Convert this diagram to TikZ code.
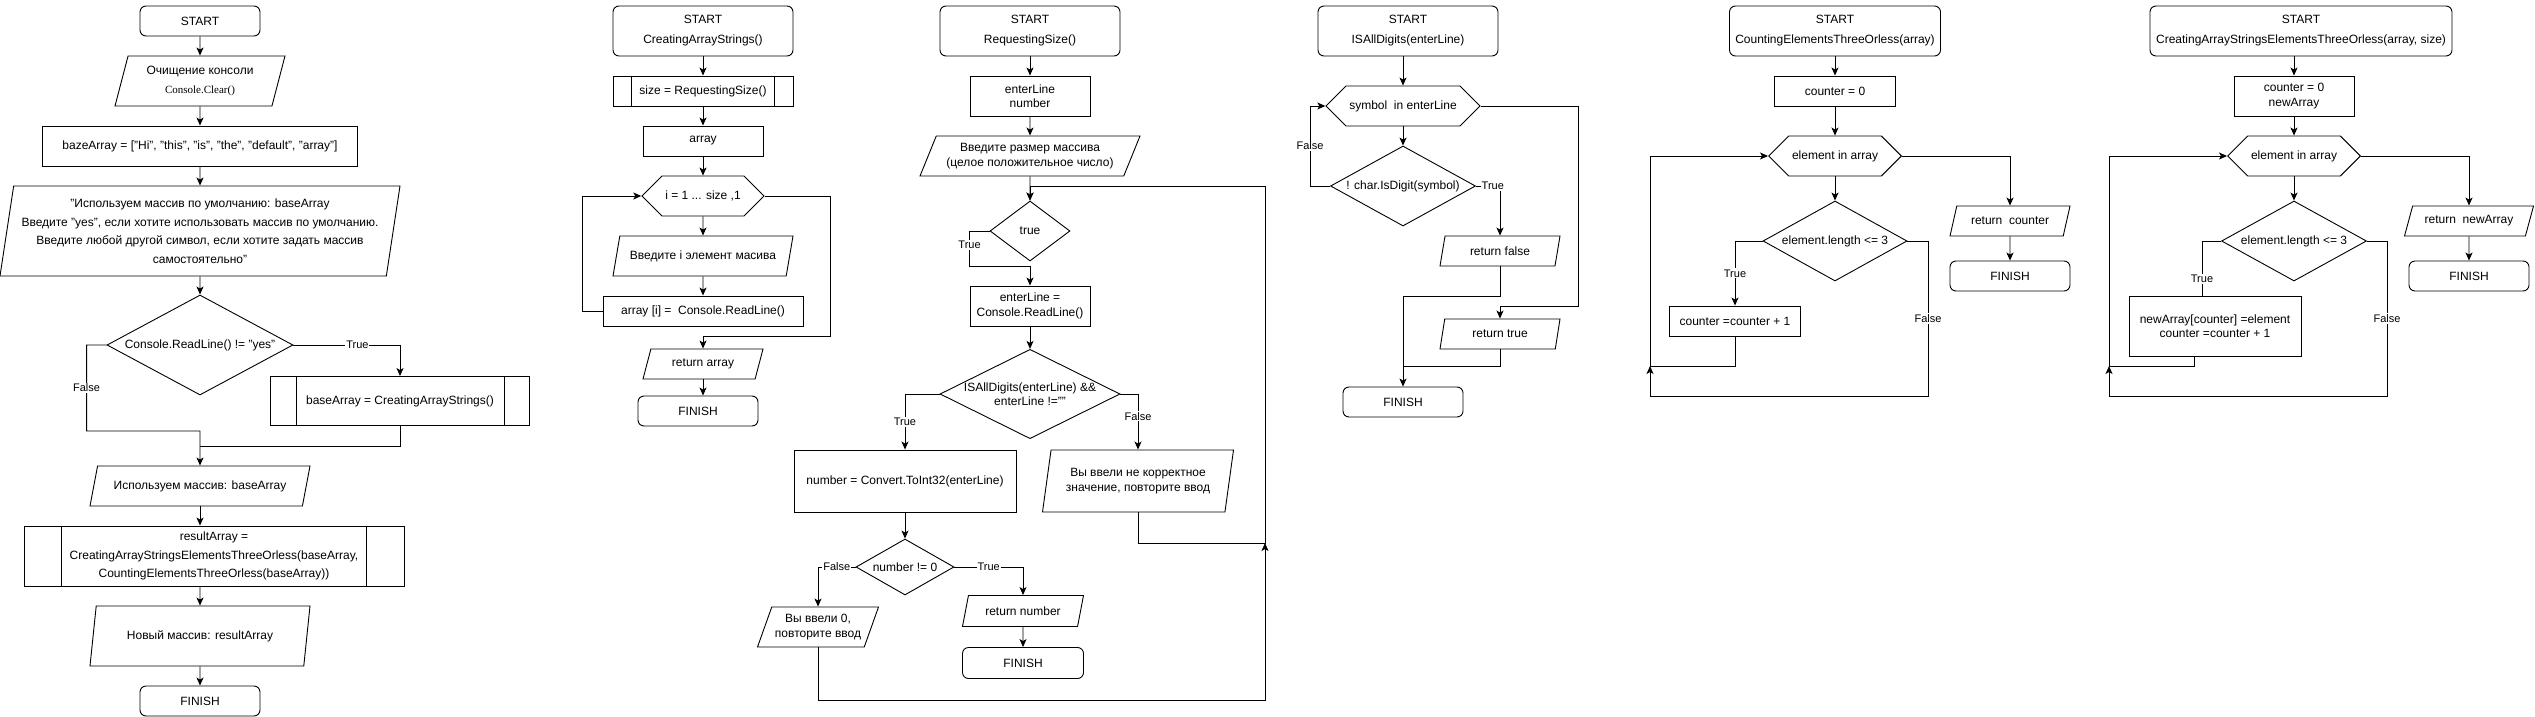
\documentclass[tikz,border=0pt]{standalone}
\usepackage{fontspec}
\setmainfont{Liberation Sans}
\newfontfamily\serifclear{Liberation Serif}
\usepackage{tikz}
\usetikzlibrary{calc, shapes.geometric, shapes.symbols, arrows.meta, positioning}
\tikzstyle{line} = [draw, -{Stealth[length=8pt, width=7pt, inset=2pt]}]
\tikzstyle{startstop} = [draw, rectangle, rounded corners=6pt, minimum width=120pt, minimum height=30pt, align=center]
\tikzstyle{process} = [draw, rectangle, minimum width=120pt, minimum height=30pt, align=center]
\tikzstyle{inout} = [draw, trapezium, trapezium left angle=65, trapezium right angle=115, trapezium stretches body=true, minimum height=30pt, inner xsep=2pt, align=center]
\tikzstyle{decision} = [draw, diamond, aspect=2, inner sep=0pt, align=center]
\tikzstyle{loophex} = [draw, signal, signal to=east and west, signal pointer angle=90, minimum width=130pt, minimum height=40pt, align=center]
\tikzstyle{lbl} = [fill=white, inner sep=1pt, font=\fontsize{11}{13}\selectfont]
\tikzset{subroutine/.style={draw, rectangle, minimum height=30pt, align=center,
    append after command={
      ([xshift=#1]\tikzlastnode.north west) edge[-] ([xshift=#1]\tikzlastnode.south west)
      ([xshift=-#1]\tikzlastnode.north east) edge[-] ([xshift=-#1]\tikzlastnode.south east)}},
  startfont/.style={font=\fontsize{12}{20}\selectfont},
  tallfont/.style={font=\fontsize{12}{18.5}\selectfont}}

\begin{document}
\begin{tikzpicture}[x=1pt, y=-1pt, line width=0.9pt, font=\fontsize{12}{14.5}\selectfont]
\useasboundingbox (0,0) rectangle (2535,717);

% Main program
\node[startstop] (s1) at (200,21) {START};
\node[inout, trapezium left angle=70, trapezium right angle=110, minimum width=170pt, minimum height=50pt, tallfont] (io1) at (200,81) {Очищение консоли\\{\serifclear\fontsize{11}{13}\selectfont Console.Clear()}};
\node[process, minimum width=315pt, minimum height=40pt] (p1) at (200,146) {bazeArray = ["Hi", "this", "is", "the", "default", "array"]};
\node[inout, trapezium left angle=78, trapezium right angle=102, minimum width=400pt, minimum height=90pt, tallfont, inner ysep=0pt] (io2) at (200,231) {"Используем массив по умолчанию: baseArray\\Введите "yes", если хотите использовать массив по умолчанию.\\Введите любой другой символ, если хотите задать массив\\самостоятельно"};
\node[decision, minimum width=186pt, minimum height=100pt] (d1) at (200,345) {Console.ReadLine() != "yes"};
\node[subroutine=26, minimum width=259pt, minimum height=49pt] (sub1) at (400,401) {baseArray = CreatingArrayStrings()};
\node[inout, trapezium left angle=67, trapezium right angle=113, minimum width=220pt, minimum height=40pt] (io3) at (200,486) {Используем массив: baseArray};
\node[subroutine=38, minimum width=380pt, minimum height=60pt, tallfont] (sub2) at (214,556) {resultArray =\\CreatingArrayStringsElementsThreeOrless(baseArray,\\CountingElementsThreeOrless(baseArray))};
\node[inout, trapezium left angle=71, trapezium right angle=109, minimum width=220pt, minimum height=60pt] (io4) at (200,636) {Новый массив: resultArray};
\node[startstop] (f1) at (200,701) {FINISH};
\coordinate (j1) at (200,431);
\coordinate (j2) at (200,446);

\draw[line] (s1.south) -- (io1.north);
\draw[line] (io1.south) -- (p1.north);
\draw[line] (p1.south) -- (io2.north);
\draw[line] (io2.south) -- (d1.north);
\draw[line] (d1.east) -| node[lbl, pos=0.3] {True} (sub1.north);
\draw[line] (d1.west) -- ++(-20,0) |- node[lbl, pos=0.25] {False} (j1) -- (io3.north);
\draw (sub1.south) |- (j2);
\draw[line] (io3.south) -- (io3.south |- sub2.north);
\draw[line] (io3.south |- sub2.south) -- (io4.north);
\draw[line] (io4.south) -- (f1.north);

% CreatingArrayStrings
\node[startstop, minimum width=180pt, minimum height=50pt, startfont] (s2) at (703,31) {START\\CreatingArrayStrings()};
\node[subroutine=19, minimum width=180pt] (sub3) at (703,91) {size = RequestingSize()};
\node[process] (p2) at (703,141) {array};
\node[loophex, minimum width=120pt] (h1) at (703,196) {i = 1 ... size ,1};
\node[inout, trapezium left angle=69, trapezium right angle=111, minimum width=180pt, minimum height=40pt] (io5) at (703,256) {Введите i элемент масива};
\node[process, minimum width=200pt] (p3) at (703,311) {array [i] =\ \ Console.ReadLine()};
\node[inout, minimum width=120pt] (io6) at (703,364) {return array};
\node[startstop] (f2) at (698,411) {FINISH};
\coordinate (c2a) at (830,336);

\draw[line] (s2.south) -- (sub3.north);
\draw[line] (sub3.south) -- (p2.north);
\draw[line] (p2.south) -- (h1.north);
\draw[line] (h1.south) -- (io5.north);
\draw[line] (io5.south) -- (p3.north);
\draw[line] (p3.west) -- ++(-20,0) |- (h1.west);
\draw[line] (h1.east) -| (c2a) -- (io6.north |- c2a) -- (io6.north);
\draw[line] (io6.south) -- (io6.south |- f2.north);

% RequestingSize
\node[startstop, minimum width=180pt, minimum height=50pt, startfont] (s3) at (1030,31) {START\\RequestingSize()};
\node[process, minimum height=40pt] (p4) at (1030,96) {enterLine\\number};
\node[inout, trapezium left angle=63, trapezium right angle=117, minimum width=220pt, minimum height=40pt] (io7) at (1030,156) {Введите размер массива\\(целое положительное число)};
\node[decision, minimum width=80pt, minimum height=60pt] (d2) at (1030,231) {true};
\node[process, minimum height=40pt] (p5) at (1030,306) {enterLine =\\Console.ReadLine()};
\node[decision, minimum width=180pt, minimum height=88pt] (d3) at (1030,394) {ISAllDigits(enterLine) \&\&\\enterLine !=""};
\node[process, minimum width=222pt, minimum height=62pt] (p6) at (905,481) {number = Convert.ToInt32(enterLine)};
\node[inout, trapezium left angle=75, trapezium right angle=105, minimum width=191pt, minimum height=62pt] (io8) at (1138,481) {Вы ввели не корректное\\значение, повторите ввод};
\node[decision, minimum width=98pt, minimum height=56pt] (d4) at (905,567) {number != 0};
\node[inout, trapezium left angle=66, trapezium right angle=114, minimum width=121pt, minimum height=40pt, inner xsep=0pt] (io9) at (818,627) {Вы ввели 0,\\повторите ввод};
\node[inout, trapezium left angle=69, trapezium right angle=111, minimum width=121pt, minimum height=31pt] (io10) at (1023,611) {return number};
\node[startstop, minimum width=121pt, minimum height=31pt] (f3) at (1023,663) {FINISH};
\coordinate (c3a) at (1030,266);
\coordinate (c3b) at (1265,543);
\coordinate (c3c) at (1030,186);
\coordinate (c3d) at (1265,700);

\draw[line] (s3.south) -- (p4.north);
\draw[line] (p4.south) -- (io7.north);
\draw[line] (io7.south) -- (d2.north);
\draw[line] (d2.west) -- ++(-20,0) |- node[lbl, pos=0.2] {True} (c3a) -- (p5.north);
\draw[line] (p5.south) -- (d3.north);
\draw[line] (d3.west) -| node[lbl, pos=0.75] {True} (p6.north);
\draw[line] (d3.east) -| node[lbl, pos=0.7] {False} (io8.north);
\draw[line] (p6.south) -- (d4.north);
\draw[line] (d4.west) -| node[lbl, pos=0.25] {False} (io9.north);
\draw[line] (d4.east) -| node[lbl, pos=0.25] {True} (io10.north);
\draw[line] (io10.south) -- (f3.north);
\draw[line] (io8.south) |- (c3b) |- (c3c) -- (d2.north);
\draw[line] (io9.south) |- (c3d) -- (c3b);

% ISAllDigits
\node[startstop, minimum width=180pt, minimum height=50pt, startfont] (s4) at (1408,31) {START\\ISAllDigits(enterLine)};
\node[loophex, minimum width=130pt] (h2) at (1403,106) {symbol\ \ in enterLine};
\node[decision, minimum width=145pt, minimum height=80pt] (d5) at (1403,186) {! char.IsDigit(symbol)};
\node[inout, trapezium left angle=72, trapezium right angle=108, minimum width=120pt] (io11) at (1500,251) {return false};
\node[inout, trapezium left angle=72, trapezium right angle=108, minimum width=120pt] (io12) at (1500,334) {return true};
\node[startstop] (f4) at (1403,402) {FINISH};
\coordinate (c4a) at (1403,296);
\coordinate (c4b) at (1578,306);
\coordinate (c4c) at (1403,366);

\draw[line] (s4.south -| h2.north) -- (h2.north);
\draw[line] (h2.south) -- (d5.north);
\draw[line] (d5.west) -- ++(-20,0) |- node[lbl, pos=0.25] {False} (h2.west);
\draw[line] (d5.east) -| node[lbl, pos=0.35] {True} (io11.north);
\draw[line] (io11.south) |- (c4a) -- (f4.north);
\draw[line] (h2.east) -| (c4b) -| (io12.north);
\draw (io12.south) |- (c4c);

% CountingElementsThreeOrless
\node[startstop, minimum width=211pt, minimum height=50pt, startfont] (s5) at (1835,31) {START\\CountingElementsThreeOrless(array)};
\node[process, minimum width=121pt] (p7) at (1835,91) {counter = 0};
\node[loophex] (h3) at (1835,156) {element in array};
\node[decision, minimum width=144pt, minimum height=80pt] (d6) at (1835,241) {element.length <= 3};
\node[process, minimum width=131pt] (p8) at (1735,321) {counter =counter + 1};
\node[inout, minimum width=120pt] (io13) at (2010,221) {return\ \ counter};
\node[startstop] (f5) at (2010,276) {FINISH};
\coordinate (c5a) at (1650,366);
\coordinate (c5b) at (1928,396);
\coordinate (c5c) at (1650,396);

\draw[line] (s5.south) -- (p7.north);
\draw[line] (p7.south) -- (h3.north);
\draw[line] (h3.south) -- (d6.north);
\draw[line] (d6.west) -| node[lbl, pos=0.75] {True} (p8.north);
\draw[line] (p8.south) |- (c5a) |- (h3.west);
\draw[line] (d6.east) -| node[lbl, pos=0.75] {False} (c5b) -- (c5c) -- (c5a);
\draw[line] (h3.east) -| (io13.north);
\draw[line] (io13.south) -- (f5.north);

% CreatingArrayStringsElementsThreeOrless
\node[startstop, minimum width=302pt, minimum height=50pt, startfont] (s6) at (2301,31) {START\\CreatingArrayStringsElementsThreeOrless(array, size)};
\node[process, minimum height=40pt] (p9) at (2294,96) {counter = 0\\newArray};
\node[loophex] (h4) at (2294,156) {element in array};
\node[decision, minimum width=145pt, minimum height=80pt] (d7) at (2294,241) {element.length <= 3};
\node[process, minimum width=172pt, minimum height=60pt] (p10) at (2215,326) {newArray[counter] =element\\counter =counter + 1};
\node[inout, minimum width=129pt] (io14) at (2469,221) {return\ \ newArray};
\node[startstop] (f6) at (2469,276) {FINISH};
\coordinate (c6b) at (2109,366);
\coordinate (c6c) at (2387,396);
\coordinate (c6d) at (2109,396);

\draw[line] (s6.south -| p9.north) -- (p9.north);
\draw[line] (p9.south) -- (h4.north);
\draw[line] (h4.south) -- (d7.north);
\draw (d7.west) -| node[lbl, pos=0.85] {True} ([xshift=-13pt]p10.north);
\draw[line] ([xshift=-21pt]p10.south) |- (c6b) |- (h4.west);
\draw[line] (d7.east) -| node[lbl, pos=0.75] {False} (c6c) -- (c6d) -- (c6b);
\draw[line] (h4.east) -| (io14.north);
\draw[line] (io14.south) -- (f6.north);

\end{tikzpicture}
\end{document}
